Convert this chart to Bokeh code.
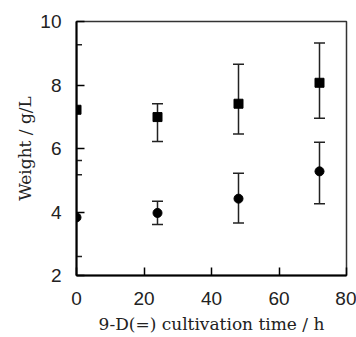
from bokeh.plotting import figure
from bokeh.models import Whisker, ColumnDataSource, Range1d, FixedTicker, TeeHead
from bokeh.embed import file_html
from bokeh.resources import INLINE

# Data
time_h = [0, 24, 48, 72]
sq_mean = [7.22, 6.99, 7.41, 8.07]
sq_upper = [9.27, 7.41, 8.65, 9.32]
sq_lower = [5.17, 6.22, 6.46, 6.95]
ci_mean = [3.83, 3.97, 4.42, 5.28]
ci_upper = [5.62, 4.34, 5.22, 6.20]
ci_lower = [2.60, 3.61, 3.65, 4.26]

x_ticks = [0, 20, 40, 60, 80]
y_ticks = [2, 4, 6, 8, 10]

p = figure(width=356, height=337, output_backend="svg", toolbar_location=None,
           x_range=Range1d(0, 80), y_range=Range1d(2, 10),
           min_border_left=76, min_border_right=10, min_border_top=21, min_border_bottom=62)
p.background_fill_color = "white"
p.border_fill_color = "white"
p.xgrid.visible = False
p.ygrid.visible = False
p.outline_line_color = "#333333"
p.outline_line_width = 1.5

for ax in (p.xaxis, p.yaxis):
    ax.axis_line_width = 2
    ax.axis_line_color = "black"
    ax.major_tick_in = 8
    ax.major_tick_out = 0
    ax.major_tick_line_width = 1.5
    ax.minor_tick_line_color = None
    ax.major_label_text_font = "Liberation Sans"
    ax.major_label_text_font_size = "19px"
    ax.major_label_text_color = "#222222"
    ax.axis_label_text_font = "DejaVu Serif"
    ax.axis_label_text_font_style = "normal"
    ax.axis_label_text_font_size = "17px"
    ax.axis_label_text_color = "#222222"

p.xaxis.ticker = FixedTicker(ticks=x_ticks)
p.yaxis.ticker = FixedTicker(ticks=y_ticks)
p.xaxis.major_label_standoff = 16
p.yaxis.major_label_standoff = 15
p.xaxis.axis_label = "9-D(=) cultivation time / h"
p.yaxis.axis_label = "Weight / g/L"
p.xaxis.axis_label_standoff = 6
p.yaxis.axis_label_standoff = 2

src_sq = ColumnDataSource(dict(x=time_h, y=sq_mean, up=sq_upper, lo=sq_lower))
src_ci = ColumnDataSource(dict(x=time_h, y=ci_mean, up=ci_upper, lo=ci_lower))

for src in (src_sq, src_ci):
    w = Whisker(base="x", upper="up", lower="lo", source=src,
                line_color="#222222", line_width=1.5,
                upper_head=TeeHead(size=11, line_color="#222222", line_width=1.5),
                lower_head=TeeHead(size=11, line_color="#222222", line_width=1.5))
    p.add_layout(w)

p.scatter("x", "y", source=src_sq, marker="square", size=9, color="black")
p.scatter("x", "y", source=src_ci, marker="circle", size=9, color="black")

open("out.html", "w").write(file_html(p, INLINE))
